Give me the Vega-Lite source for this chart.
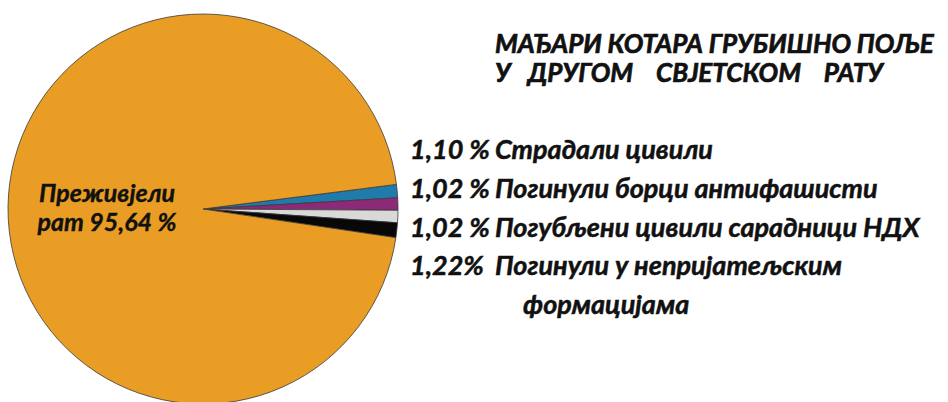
{
  "$schema": "https://vega.github.io/schema/vega-lite/v6.json",
  "background": "white",
  "padding": {"left": 0, "top": 12, "right": 0, "bottom": 0},
  "spacing": 0,
  "config": {"view": {"stroke": null}},
  "datasets": {
    "shares": [
      {"category": "Страдали цивили", "pct": 1.10, "order": 1, "inside": ""},
      {"category": "Погинули борци антифашисти", "pct": 1.02, "order": 2, "inside": ""},
      {"category": "Погубљени цивили сарадници НДХ", "pct": 1.02, "order": 3, "inside": ""},
      {"category": "Погинули у непријатељским формацијама", "pct": 1.22, "order": 4, "inside": ""},
      {"category": "Преживјели рат", "pct": 95.64, "order": 5, "inside": "Преживјели\nрат 95,64 %"}
    ],
    "heading": [
      {"hline": 1, "text": "МАЂАРИ КОТАРА ГРУБИШНО ПОЉЕ"},
      {"hline": 2, "text": "У\u00a0\u00a0\u00a0ДРУГОМ\u00a0\u00a0\u00a0\u00a0СВЈЕТСКОМ\u00a0\u00a0\u00a0\u00a0РАТУ"}
    ],
    "labels": [
      {"line": 1, "pct": "1,10 %", "name": "Страдали цивили", "cont": ""},
      {"line": 2, "pct": "1,02 %", "name": "Погинули борци антифашисти", "cont": ""},
      {"line": 3, "pct": "1,02 %", "name": "Погубљени цивили сарадници НДХ", "cont": ""},
      {"line": 4, "pct": "1,22%", "name": "Погинули у непријатељским", "cont": ""},
      {"line": 5, "pct": "", "name": "", "cont": "формацијама"}
    ]
  },
  "hconcat": [
    {
      "width": 406,
      "height": 390,
      "data": {"name": "shares"},
      "encoding": {
        "theta": {"field": "pct", "type": "quantitative", "stack": true, "scale": {"range": [1.4443, 7.7275]}},
        "order": {"field": "order", "type": "quantitative"}
      },
      "layer": [
        {
          "mark": {"type": "arc", "outerRadius": 195, "stroke": "#3a3a3a", "strokeWidth": 0.8},
          "encoding": {
            "color": {
              "field": "category", "type": "nominal", "legend": null,
              "scale": {
                "domain": ["Страдали цивили", "Погинули борци антифашисти", "Погубљени цивили сарадници НДХ", "Погинули у непријатељским формацијама", "Преживјели рат"],
                "range": ["#1f7bab", "#8c2a78", "#d9d9d9", "#080808", "#e99d24"]
              }
            }
          }
        },
        {
          "mark": {"type": "text", "radius": 96, "font": "Lato", "fontSize": 25, "fontWeight": "bold", "fontStyle": "italic", "color": "#111111", "stroke": "#111111", "strokeWidth": 0.4, "lineBreak": "\n", "lineHeight": 29, "align": "center", "baseline": "alphabetic", "dy": -6},
          "encoding": {"text": {"field": "inside", "type": "nominal"}}
        }
      ]
    },
    {
      "width": 542,
      "height": 390,
      "layer": [
        {
          "data": {"name": "heading"},
          "mark": {"type": "text", "font": "Lato", "fontSize": 26, "fontWeight": "bold", "fontStyle": "italic", "color": "#111111", "stroke": "#111111", "strokeWidth": 0.7, "align": "left", "baseline": "alphabetic"},
          "encoding": {
            "x": {"datum": "name", "type": "nominal", "scale": {"type": "point", "domain": ["pct", "name"], "range": [4, 89], "padding": 0}, "axis": null},
            "y": {"field": "hline", "type": "ordinal", "scale": {"type": "point", "domain": [1, 2], "range": [39, 68], "padding": 0}, "axis": null},
            "text": {"field": "text", "type": "nominal"}
          }
        },
        {
          "data": {"name": "labels"},
          "encoding": {
            "y": {"field": "line", "type": "ordinal", "scale": {"type": "point", "domain": [1, 2, 3, 4, 5], "range": [145, 300], "padding": 0}, "axis": null}
          },
          "layer": [
            {
              "mark": {"type": "text", "font": "Lato", "fontSize": 27, "fontWeight": "bold", "fontStyle": "italic", "color": "#111111", "stroke": "#111111", "strokeWidth": 0.5, "align": "left", "baseline": "alphabetic"},
              "encoding": {
                "x": {"datum": "pct", "type": "nominal", "axis": null},
                "text": {"field": "pct", "type": "nominal"}
              }
            },
            {
              "mark": {"type": "text", "font": "Lato", "fontSize": 27, "fontWeight": "bold", "fontStyle": "italic", "color": "#111111", "stroke": "#111111", "strokeWidth": 0.5, "align": "left", "baseline": "alphabetic"},
              "encoding": {
                "x": {"datum": "name", "type": "nominal", "axis": null},
                "text": {"field": "name", "type": "nominal"}
              }
            },
            {
              "mark": {"type": "text", "font": "Lato", "fontSize": 27, "fontWeight": "bold", "fontStyle": "italic", "color": "#111111", "stroke": "#111111", "strokeWidth": 0.5, "align": "left", "baseline": "alphabetic", "dx": 28},
              "encoding": {
                "x": {"datum": "name", "type": "nominal", "axis": null},
                "text": {"field": "cont", "type": "nominal"}
              }
            }
          ]
        }
      ],
      "resolve": {"scale": {"y": "independent"}}
    }
  ]
}
